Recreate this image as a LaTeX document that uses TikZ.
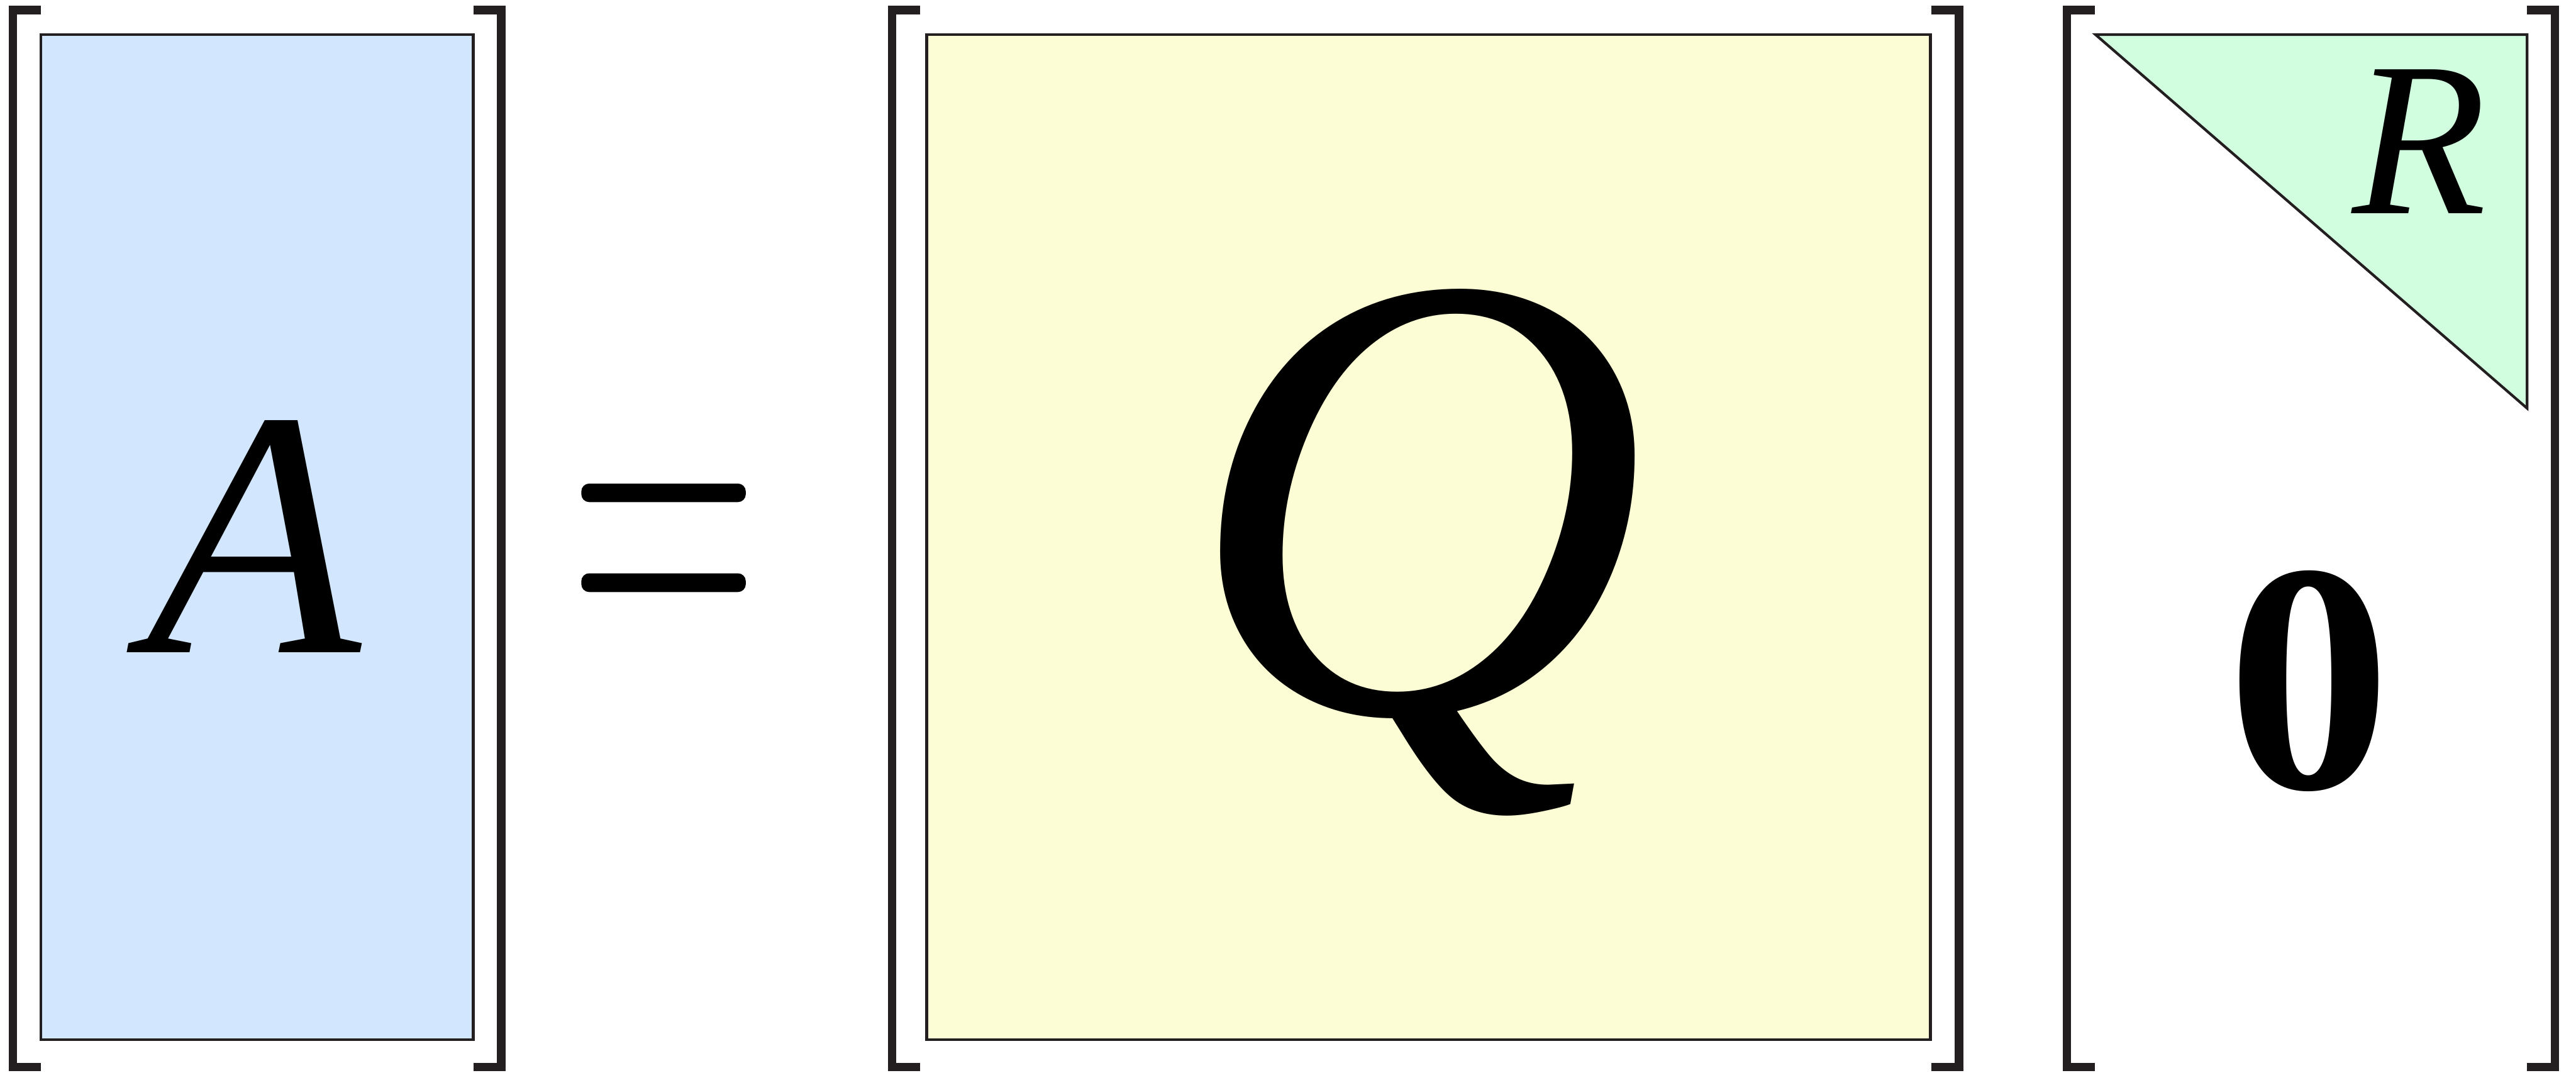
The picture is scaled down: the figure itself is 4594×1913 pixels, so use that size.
\documentclass[tikz,border=0pt]{standalone}
\usepackage{fontspec}
\setmainfont{Liberation Serif}
\definecolor{brk}{HTML}{231F20}
\definecolor{blueA}{HTML}{D2E6FE}
\definecolor{yellowQ}{HTML}{FCFDD4}
\definecolor{greenR}{HTML}{D2FEE0}
\tikzset{
  bracket/.style={draw=brk, line width=1.5pt, line join=miter, line cap=butt},
  matbox/.style={draw=brk, line width=0.47pt, line join=miter},
  letter/.style={inner sep=0pt, outer sep=0pt, anchor=base, text=black},
  eqbar/.style={fill=black, rounded corners=1.4pt}
}
\begin{document}
\begin{tikzpicture}[x=0.1pt, y=-0.1pt]
\useasboundingbox (0,0) rectangle (4594,1913);
% A matrix
\draw[matbox, fill=blueA] (73.3,61.7) rectangle (844,1853.7);
\draw[bracket] (73,17.8) -- (23.2,17.8) -- (23.2,1902.6) -- (73,1902.6);
\draw[bracket] (844,17.8) -- (893.8,17.8) -- (893.8,1902.6) -- (844,1902.6);
\node[letter, font=\fontsize{62.7}{70}\selectfont\itshape] (A) at (452,1164) {A};
% equals
\fill[eqbar] (1036.7,862.3) rectangle (1330,895.3);
\fill[eqbar] (1036.7,1022.3) rectangle (1330,1055.7);
% Q matrix
\draw[matbox, fill=yellowQ] (1652.7,61.7) rectangle (3442.7,1853.7);
\draw[bracket] (1641.3,17.8) -- (1591.2,17.8) -- (1591.2,1902.6) -- (1641.3,1902.6);
\draw[bracket] (3444,17.8) -- (3493.8,17.8) -- (3493.8,1902.6) -- (3444,1902.6);
\node[letter, font=\fontsize{114}{120}\selectfont\itshape] (Q) at (2525,1270) {Q};
% R matrix
\draw[matbox, fill=greenR] (3737,61.7) -- (4506.7,61.7) -- (4506.7,728) -- cycle;
\draw[bracket] (3735.7,17.8) -- (3685.7,17.8) -- (3685.7,1902.6) -- (3735.7,1902.6);
\draw[bracket] (4506.7,17.8) -- (4556.7,17.8) -- (4556.7,1902.6) -- (4506.7,1902.6);
\node[letter, font=\fontsize{39.2}{44}\selectfont\itshape] (R) at (4315,381) {R};
\node[letter, font=\fontsize{58.4}{64}\selectfont\bfseries] (Z) at (4118,1406) {0};
\end{tikzpicture}
\end{document}
